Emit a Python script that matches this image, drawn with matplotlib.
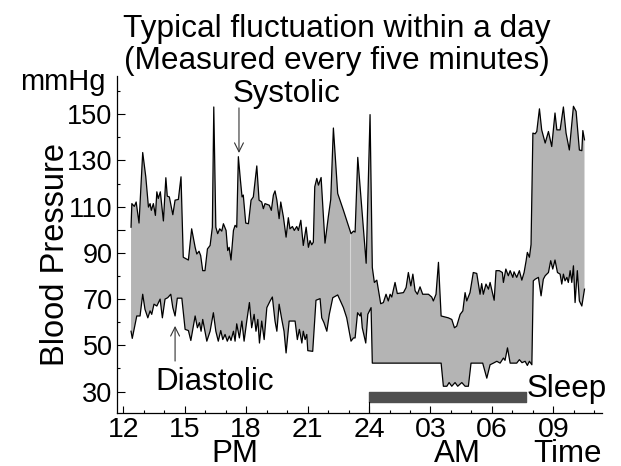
import matplotlib
matplotlib.use("Agg")
import matplotlib.pyplot as plt
import numpy as np

plt.rcParams['font.family'] = ['Liberation Sans', 'DejaVu Sans']

# ---- data (hours since midnight of day 1; >24 means next morning) ----
sys_t = [12.38, 12.42, 12.54, 12.63, 12.77, 12.95, 13.10, 13.23, 13.31, 13.37, 13.47, 13.57, 13.64, 13.71, 13.81,
         13.96, 14.08, 14.15, 14.25, 14.42, 14.53, 14.69, 14.82, 14.93, 15.18, 15.34, 15.51, 15.59, 15.70, 15.78,
         15.88, 15.99, 16.11, 16.24, 16.35, 16.42, 16.52, 16.61, 16.71, 16.81, 16.89, 17.02, 17.10, 17.17, 17.26,
         17.38, 17.46, 17.54, 17.62, 17.72, 17.80, 17.86, 17.98, 18.11, 18.24, 18.35, 18.52, 18.63, 18.76, 18.84,
         18.92, 19.13, 19.23, 19.33, 19.41, 19.50, 19.61, 19.69, 19.82, 19.95, 20.06, 20.14, 20.26, 20.35, 20.47,
         20.55, 20.67, 20.79, 20.93, 21.04, 21.12, 21.20, 21.28, 21.35, 21.45, 21.53, 21.66, 21.85, 22.01, 22.13,
         22.26, 22.47, 22.75, 22.99, 23.12, 23.24, 23.32, 23.45, 23.86, 24.05, 24.16, 24.26, 24.38, 24.57, 24.70,
         24.83, 24.94, 25.03, 25.11, 25.27, 25.38, 25.68, 25.81, 25.92, 26.04, 26.14, 26.25, 26.36, 26.49, 26.62,
         26.90, 27.06, 27.14, 27.27, 27.39, 27.52, 27.87, 28.04, 28.17, 28.28, 28.45, 28.58, 28.69, 28.77, 28.93,
         29.09, 29.26, 29.42, 29.50, 29.58, 29.71, 29.83, 29.91, 30.11, 30.20, 30.36, 30.51, 30.56, 30.68, 30.80,
         30.89, 31.02, 31.08, 31.21, 31.34, 31.46, 31.57, 31.67, 31.73, 31.83, 31.91, 32.00, 32.11, 32.19, 32.32,
         32.43, 32.60, 32.76, 32.92, 33.08, 33.17, 33.33, 33.49, 33.62, 33.78, 33.98, 34.11, 34.27, 34.39, 34.44,
         34.52]
systolic = [101.1, 111.3, 110.1, 112.0, 102.9, 133.4, 122.9, 109.8, 111.3, 108.4, 111.3, 106.2, 116.4, 113.5, 116.4,
            103.8, 122.5, 114.5, 114.2, 106.5, 112.8, 113.1, 122.9, 88.1, 86.9, 100.4, 92.4, 89.5, 90.7, 88.8,
            82.3, 82.3, 91.7, 93.2, 101.1, 153.1, 101.1, 98.3, 100.4, 99.4, 102.6, 99.7, 91.0, 92.4, 86.9,
            99.7, 101.9, 101.1, 131.6, 121.5, 114.2, 115.0, 102.9, 102.6, 112.8, 114.2, 127.6, 112.8, 112.0, 109.1,
            111.3, 110.6, 108.4, 115.0, 116.8, 112.8, 104.8, 112.0, 105.5, 96.8, 105.2, 100.4, 101.4, 99.7, 101.4,
            99.7, 104.1, 93.2, 101.1, 92.4, 95.3, 93.5, 94.6, 118.6, 122.2, 119.3, 122.6, 94.2, 105.5, 113.1,
            144.0, 115.7, 108.4, 101.9, 98.3, 99.4, 99.0, 131.3, 85.5, 149.8, 83.7, 77.2, 78.2, 68.0, 68.5,
            72.1, 69.2, 72.1, 70.9, 77.2, 72.4, 72.8, 75.0, 81.5, 75.7, 80.8, 73.6, 72.1, 75.3, 72.1,
            72.1, 70.9, 69.2, 72.1, 85.9, 62.7, 61.9, 61.2, 57.6, 58.3, 63.4, 64.9, 72.8, 69.2, 72.8,
            81.5, 81.1, 72.1, 76.7, 72.1, 76.5, 74.3, 77.2, 69.5, 82.3, 82.3, 81.5, 77.2, 83.0, 80.1,
            82.3, 79.4, 81.8, 79.4, 82.3, 78.2, 81.5, 86.6, 90.2, 88.1, 93.6, 141.8, 141.5, 142.5, 152.3,
            143.2, 137.5, 142.5, 136.0, 150.5, 143.2, 143.2, 153.1, 141.8, 134.5, 153.4, 151.2, 134.5, 134.2, 142.9,
            138.9]

dia_t = [12.38, 12.44, 12.66, 12.82, 12.95, 13.06, 13.20, 13.31, 13.39, 13.50, 13.64, 13.80, 13.91, 14.04, 14.17,
         14.32, 14.42, 14.53, 14.64, 14.86, 15.02, 15.18, 15.30, 15.51, 15.62, 15.72, 15.80, 15.88, 16.08, 16.24,
         16.40, 16.52, 16.64, 16.76, 16.86, 16.97, 17.08, 17.18, 17.26, 17.38, 17.46, 17.54, 17.67, 17.79, 17.90,
         18.03, 18.16, 18.27, 18.39, 18.48, 18.57, 18.65, 18.76, 18.88, 19.01, 19.17, 19.28, 19.41, 19.50, 19.61,
         19.74, 19.85, 19.95, 20.10, 20.39, 20.50, 20.60, 20.72, 20.79, 20.88, 20.96, 21.01, 21.25, 21.41, 21.61,
         21.69, 21.80, 21.94, 22.06, 22.23, 22.47, 22.75, 22.91, 23.12, 23.24, 23.32, 23.44, 23.56, 23.61, 23.67,
         23.84, 23.94, 24.10, 24.16, 27.52, 27.63, 27.80, 27.91, 28.04, 28.20, 28.33, 28.53, 28.69, 28.85, 28.98,
         29.55, 29.75, 29.91, 30.07, 30.24, 30.40, 30.56, 30.64, 30.76, 30.89, 31.21, 31.34, 31.47, 31.62, 31.73,
         31.83, 31.95, 32.02, 32.11, 32.27, 32.40, 32.51, 32.60, 32.76, 32.87, 32.97, 33.08, 33.20, 33.33, 33.41,
         33.49, 33.57, 33.66, 33.73, 33.82, 33.90, 33.98, 34.06, 34.17, 34.27, 34.39, 34.52]
diastolic = [56.1, 53.0, 62.7, 62.7, 72.1, 65.6, 61.9, 64.9, 63.4, 67.8, 67.0, 70.0, 61.9, 70.0, 70.6,
             72.1, 66.3, 62.7, 70.4, 70.4, 56.9, 56.4, 52.1, 62.7, 57.6, 59.8, 56.1, 61.2, 51.8, 56.1,
             64.1, 56.1, 51.8, 56.4, 52.5, 54.7, 51.8, 54.0, 52.1, 56.1, 51.8, 59.3, 53.2, 60.5, 51.8,
             60.5, 68.5, 57.6, 63.4, 56.1, 61.2, 51.0, 60.5, 52.5, 66.3, 69.2, 70.9, 60.5, 56.1, 67.8,
             61.2, 56.1, 46.7, 60.5, 60.5, 52.5, 56.9, 51.0, 56.1, 52.5, 54.7, 47.7, 47.4, 69.5, 70.2,
             61.9, 59.8, 56.1, 63.4, 70.6, 71.8, 66.3, 61.9, 51.8, 53.2, 53.2, 64.1, 62.7, 64.1, 57.6,
             51.0, 63.4, 66.3, 42.3, 42.3, 32.3, 32.3, 33.9, 32.3, 33.9, 32.3, 33.9, 32.3, 32.3, 42.3,
             42.3, 35.8, 41.6, 42.3, 43.1, 42.3, 44.5, 43.5, 48.9, 42.3, 42.3, 43.8, 42.5, 43.1, 41.3,
             43.1, 41.6, 77.9, 78.6, 79.4, 71.4, 78.6, 80.1, 81.5, 86.6, 83.0, 86.9, 81.5, 80.8, 76.5,
             80.8, 77.9, 79.4, 77.2, 82.3, 77.2, 84.4, 68.5, 82.3, 69.2, 67.0, 74.3]

seam_t = 23.06                      # visible seam in the shaded band
sleep_start, sleep_end = 24.0, 31.65

x_major = [12, 15, 18, 21, 24, 27, 30, 33]
x_labels = ['12', '15', '18', '21', '24', '03', '06', '09']
y_major = [30, 50, 70, 90, 100, 110, 130, 150]
y_labels = ['30', '50', '70', '90', '', '110', '130', '150']

W, H = 621, 466
fig = plt.figure(figsize=(W / 100, H / 100), dpi=100)
ax = fig.add_axes([116.7 / W, 1 - 413.3 / H, (601.7 - 116.7) / W, (413.3 - 76) / H])

xlo, xhi = 11.68, 35.36
ylo, yhi = 20.6, 166.5

band_x = np.concatenate([sys_t, dia_t[::-1]])
band_y = np.concatenate([systolic, diastolic[::-1]])
ax.fill(band_x, band_y, color='#b4b4b4', lw=0, zorder=1)
ax.vlines(seam_t, np.interp(seam_t, dia_t, diastolic), np.interp(seam_t, sys_t, systolic),
          color='#d6d6d6', lw=0.8, zorder=1.5)
ax.plot(sys_t, systolic, color='black', lw=0.9, zorder=2)
ax.plot(dia_t, diastolic, color='black', lw=0.9, zorder=2)

# sleep bar
ax.broken_barh([(sleep_start, sleep_end - sleep_start)], (25.7, 4.0), color='#4f4f4f', zorder=2)
ax.plot([sleep_start, sleep_start], [ylo, 25.7], color='black', lw=0.8, zorder=2)

ax.set_xlim(xlo, xhi)
ax.set_ylim(ylo, yhi)
for s in ['top', 'right']:
    ax.spines[s].set_visible(False)
for s in ['left', 'bottom']:
    ax.spines[s].set_linewidth(0.9)

ax.set_xticks(x_major)
ax.set_xticklabels(x_labels)
ax.set_xticks(np.arange(13, 36, 1), minor=True)
ax.set_yticks(y_major)
ax.set_yticklabels(y_labels)
ax.set_yticks([40, 60, 80, 120, 140, 160], minor=True)
ax.tick_params(axis='both', which='major', direction='in', length=6, width=0.8)
ax.tick_params(axis='both', which='minor', direction='in', length=2.5, width=0.8)
ax.tick_params(axis='x', which='major', pad=3, length=5, labelsize=20.5)
ax.tick_params(axis='y', which='major', pad=3, labelsize=19.5)

# arrows
ax.annotate('', xy=(17.65, 133.2), xytext=(17.65, 152.7),
            arrowprops=dict(arrowstyle='->', lw=0.8, color='#333333', mutation_scale=16, shrinkA=0, shrinkB=0))
ax.annotate('', xy=(14.53, 58.4), xytext=(14.53, 43.2),
            arrowprops=dict(arrowstyle='->', lw=0.8, color='#333333', mutation_scale=16, shrinkA=0, shrinkB=0))

def ftxt(x, y, s, **kw):
    fig.text(x / W, 1 - y / H, s, **kw)

ftxt(337, 37, 'Typical fluctuation within a day', ha='center', va='baseline', fontsize=22.8)
ftxt(337, 68.5, '(Measured every five minutes)', ha='center', va='baseline', fontsize=22.8)
ftxt(106, 90.5, 'mmHg', ha='right', va='baseline', fontsize=21)
ftxt(287, 102, 'Systolic', ha='center', va='baseline', fontsize=22.5)
ftxt(215, 390, 'Diastolic', ha='center', va='baseline', fontsize=22.5)
ftxt(527, 397, 'Sleep', ha='left', va='baseline', fontsize=22.5)
ftxt(234.5, 461.5, 'PM', ha='center', va='baseline', fontsize=22.5)
ftxt(457.5, 461.5, 'AM', ha='center', va='baseline', fontsize=22.5)
ftxt(568, 461.5, 'Time', ha='center', va='baseline', fontsize=22.5)
ftxt(56, 254, 'Blood Pressure', ha='center', va='center', rotation=90, fontsize=23.5)

fig.savefig('out.png', dpi=100)
